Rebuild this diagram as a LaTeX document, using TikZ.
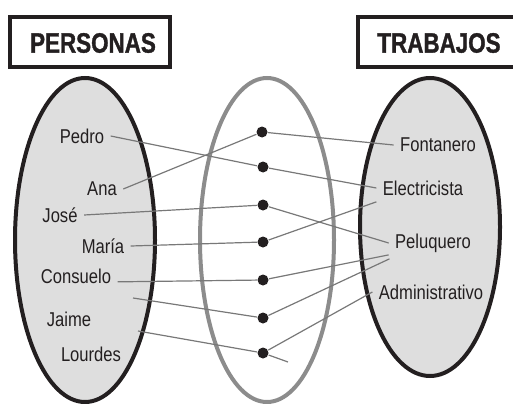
\documentclass[tikz,border=0pt]{standalone}
\usepackage{fontspec}
\newfontfamily\labelfont[FakeStretch=0.83]{Liberation Sans}
\newfontfamily\titlefont[FakeStretch=0.8,FakeBold=1.2]{Liberation Sans Bold}
\definecolor{setfill}{RGB}{222,222,222}
\definecolor{setline}{RGB}{35,31,32}
\definecolor{midline}{RGB}{140,140,140}
\definecolor{linkline}{RGB}{120,120,120}

\tikzset{every picture/.style={line width=0.75pt}}
\tikzset{
  itemtext/.style={inner sep=4.5pt, text=setline, font=\labelfont\fontsize{15}{17}\selectfont},
  headtext/.style={inner sep=0pt, text=setline, font=\titlefont\fontsize{21}{24}\selectfont},
  dotnode/.style={circle, fill=setline, inner sep=0pt, minimum size=8.25pt},
  linkline/.style={draw=linkline, line width=0.9pt}
}

\begin{document}
\begin{tikzpicture}[x=0.75pt,y=0.75pt,yscale=-1,xscale=1]
        \useasboundingbox (0,0) rectangle (513,403);

        %Shape: Rectangle
        \draw [color=setline, line width=3pt] (10,17) rectangle (170,67) ;
        %Shape: Rectangle
        \draw [color=setline, line width=3pt] (358,17) rectangle (530,67) ;
        % Text Node
        \node [headtext] (personas) at (93,43) {PERSONAS};
        % Text Node
        \node [headtext] (trabajos) at (439,43) {TRABAJOS};

        %Shape: Ellipse
        \draw [color=setline, fill=setfill, line width=3pt] (85,240) ellipse [x radius=70, y radius=162] ;
        %Shape: Ellipse
        \draw [color=midline, line width=3pt] (267,240) ellipse [x radius=67, y radius=162] ;
        %Shape: Ellipse
        \draw [color=setline, fill=setfill, line width=3pt] (430,227) ellipse [x radius=70, y radius=149] ;

        % Text Node
        \node [itemtext] (pedro) at (82,136) {Pedro};
        \node [itemtext] (ana) at (102,189) {Ana};
        \node [itemtext] (jose) at (60,215) {José};
        \node [itemtext] (maria) at (103,246) {María};
        \node [itemtext] (consuelo) at (76,276) {Consuelo};
        \node [itemtext] (jaime) at (69,319) {Jaime};
        \node [itemtext] (lourdes) at (91,354) {Lourdes};
        % Text Node
        \node [itemtext] (fontanero) at (438,145) {Fontanero};
        \node [itemtext] (electricista) at (423,188) {Electricista};
        \node [itemtext] (peluquero) at (433,243) {Peluquero};
        \node [itemtext] (admin) at (431,292) {Administrativo};

        %Shape: Circle
        \node [dotnode] (d1) at (262,132) {};
        \node [dotnode] (d2) at (263,167) {};
        \node [dotnode] (d3) at (263,205) {};
        \node [dotnode] (d4) at (263,242) {};
        \node [dotnode] (d5) at (263,280) {};
        \node [dotnode] (d6) at (263,318) {};
        \node [dotnode] (d7) at (263,353) {};

        \coordinate (jaimeend) at (133,298);
        \coordinate (lourdesend) at (138,331);
        \coordinate (tailend) at (288,362);

        %Straight Lines
        \draw [linkline] (ana.east) -- (d1) ;
        \draw [linkline] (d1) -- (fontanero.west) ;
        \draw [linkline] (pedro.east) -- (d2) ;
        \draw [linkline] (d2) -- (electricista.west) ;
        \draw [linkline] (jose.east) -- (d3) ;
        \draw [linkline] (d3) -- (peluquero.west) ;
        \draw [linkline] (maria.east) -- (d4) ;
        \draw [linkline] (d4) -- (electricista.south west) ;
        \draw [linkline] (consuelo.-8) -- (d5) ;
        \draw [linkline] (d5) -- (peluquero.-165) ;
        \draw [linkline] (jaimeend) -- (d6) ;
        \draw [linkline] (d6) -- (peluquero.-160) ;
        \draw [linkline] (lourdesend) -- (d7) ;
        \draw [linkline] (d7) -- (admin.west) ;
        \draw [linkline] (d7) -- (tailend) ;

\end{tikzpicture}
\end{document}
